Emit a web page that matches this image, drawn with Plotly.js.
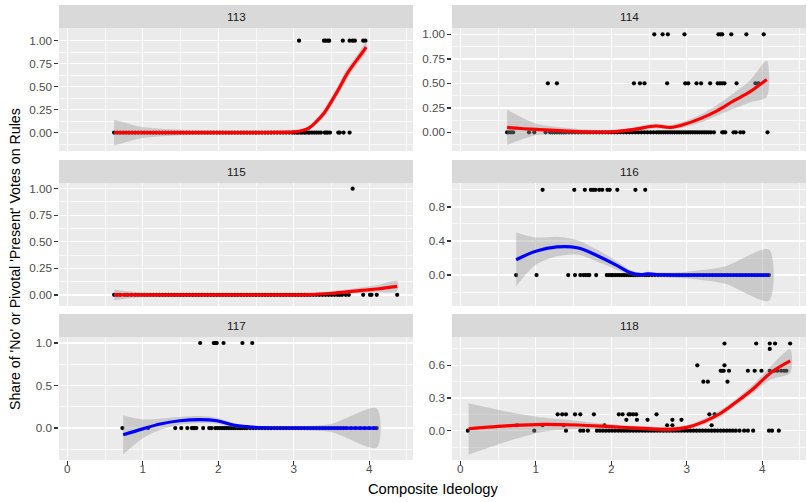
<!DOCTYPE html>
<html><head><meta charset="utf-8">
<script src="https://cdn.plot.ly/plotly-3.0.1.min.js"></script>
<style>html,body{margin:0;padding:0;background:#fff}#chart{width:807px;height:502px}</style>
</head><body><div id="chart"></div>
<script>
// ---------- DATA ----------
const panelNames = ['113','114','115','116','117','118'];
const xTickLabels = ['0','1','2','3','4'];
const xTitle = 'Composite Ideology';
const yTitle = "Share of 'No' or Pivotal 'Present' Votes on Rules";

// Panel 113
const p113_x0 = [0.62,0.66,0.70,0.74,0.78,0.82,0.86,0.90,0.94,0.98,1.02,1.06,1.10,1.14,1.18,1.22,1.26,1.30,1.34,1.38,1.42,1.46,1.50,1.54,1.58,1.62,1.66,1.70,1.74,1.78,1.82,1.86,1.90,1.94,1.98,2.02,2.06,2.10,2.14,2.18,2.22,2.26,2.30,2.34,2.38,2.42,2.46,2.50,2.54,2.58,2.62,2.66,2.70,2.74,2.78,2.82,2.86,2.90,2.94,2.98,3.01,3.04,3.06,3.09,3.11,3.14,3.16,3.19,3.21,3.24,3.27,3.30,3.33,3.36,3.41,3.43,3.45,3.48,3.59,3.61,3.66,3.74];
const p113_x1 = [3.07,3.40,3.42,3.45,3.47,3.65,3.74,3.78,3.81,3.92,3.95];
const s113_x  = [0.62,0.80,1.00,1.50,2.00,2.50,2.80,3.00,3.10,3.20,3.30,3.40,3.50,3.60,3.70,3.80,3.90,3.96];
const s113_y  = [0.00,0.00,0.00,0.00,0.00,0.00,0.002,0.007,0.02,0.05,0.12,0.21,0.34,0.48,0.63,0.75,0.86,0.93];
const s113_lo = [-0.14,-0.10,-0.06,-0.03,-0.02,-0.015,-0.012,-0.008,0.005,0.03,0.09,0.17,0.29,0.43,0.57,0.70,0.80,0.87];
const s113_hi = [0.14,0.10,0.06,0.03,0.02,0.015,0.016,0.022,0.035,0.07,0.15,0.25,0.39,0.53,0.69,0.80,0.92,0.99];

// Panel 114
const p114_x0 = [0.62,0.64,0.67,0.70,0.91,0.98,1.13,1.19,1.22,1.25,1.28,1.31,1.34,1.37,1.40,1.44,1.48,1.52,1.56,1.60,1.64,1.68,1.72,1.76,1.80,1.84,1.88,1.92,1.96,2.00,2.04,2.08,2.12,2.16,2.20,2.24,2.28,2.32,2.36,2.40,2.44,2.48,2.52,2.56,2.60,2.63,2.66,2.69,2.72,2.75,2.78,2.81,2.84,2.87,2.90,2.93,2.96,2.99,3.02,3.05,3.08,3.11,3.14,3.17,3.20,3.23,3.26,3.29,3.32,3.36,3.47,3.49,3.51,3.62,3.65,3.71,3.75,4.07];
const p114_xh = [1.16,1.28,2.30,2.38,2.44,2.74,2.98,3.02,3.13,3.19,3.31,3.41,3.44,3.47,3.50,3.66,3.91,3.95];
const p114_x1 = [2.57,2.68,2.75,2.97,3.42,3.45,3.47,3.59,3.79,4.02];
const s114_x  = [0.62,1.00,1.50,2.00,2.30,2.59,2.78,2.96,3.18,3.40,3.62,3.85,4.06];
const s114_y  = [0.05,0.03,0.01,0.005,0.03,0.065,0.05,0.08,0.14,0.22,0.32,0.42,0.54];
const s114_lo = [-0.13,-0.03,-0.02,-0.01,0.01,0.04,0.03,0.05,0.10,0.17,0.24,0.31,0.36];
const s114_hi = [0.23,0.09,0.04,0.02,0.05,0.09,0.075,0.11,0.18,0.28,0.40,0.54,0.73];

// Panel 115
const p115_x0 = [0.62,0.66,0.70,0.76,0.80,0.85,0.90,0.94,0.98,1.02,1.06,1.10,1.14,1.18,1.22,1.26,1.30,1.34,1.38,1.42,1.46,1.50,1.54,1.58,1.62,1.66,1.70,1.74,1.78,1.82,1.86,1.90,1.94,1.98,2.02,2.06,2.10,2.14,2.18,2.22,2.26,2.30,2.34,2.38,2.42,2.46,2.50,2.54,2.58,2.62,2.66,2.70,2.74,2.78,2.82,2.86,2.90,2.94,2.98,3.02,3.06,3.10,3.14,3.18,3.22,3.26,3.30,3.34,3.38,3.42,3.46,3.50,3.54,3.58,3.61,3.64,3.69,3.73,3.92,4.01,4.03,4.10,4.37];
const p115_x1 = [3.78];
const s115_x  = [0.62,1.00,1.50,2.00,2.50,3.00,3.20,3.50,3.80,4.10,4.37];
const s115_y  = [0.00,0.00,0.00,0.00,0.00,0.00,0.002,0.015,0.035,0.055,0.08];
const s115_lo = [-0.05,-0.02,-0.01,-0.008,-0.008,-0.008,-0.008,0.000,0.012,0.025,0.035];
const s115_hi = [0.05,0.02,0.01,0.008,0.008,0.008,0.012,0.030,0.060,0.090,0.130];

// Panel 116
const p116_x0 = [0.74,1.01,1.43,1.52,1.59,1.63,1.66,1.69,1.71,1.80,1.94,1.97,2.00,2.02,2.05,2.08,2.11,2.14,2.17,2.20,2.23,2.26,2.29,2.32,2.35,2.38,2.41,2.44,2.47,2.50,2.54,2.58,2.62,2.66,2.70,2.74,2.78,2.82,2.86,2.90,2.94,2.98,3.02,3.06,3.10,3.14,3.18,3.22,3.26,3.30,3.34,3.38,3.42,3.46,3.50,3.54,3.58,3.62,3.66,3.70,3.74,3.78,3.82,3.86,3.90,3.94,3.98,4.02,4.06,4.09];
const p116_x1 = [1.09,1.51,1.65,1.73,1.76,1.79,1.84,1.88,1.95,1.98,2.08,2.32,2.45];
const s116_x  = [0.74,1.00,1.28,1.55,1.81,2.08,2.25,2.39,2.48,2.60,3.00,3.50,4.09];
const s116_y  = [0.18,0.28,0.33,0.32,0.23,0.11,0.03,0.005,0.015,0.005,0.00,0.00,0.00];
const s116_lo = [-0.13,0.12,0.22,0.24,0.16,0.06,0.00,-0.02,-0.01,-0.02,-0.04,-0.10,-0.30];
const s116_hi = [0.50,0.44,0.45,0.41,0.30,0.16,0.06,0.03,0.04,0.03,0.04,0.10,0.30];

// Panel 117
const p117_x0 = [0.73,1.07,1.43,1.51,1.59,1.65,1.67,1.69,1.71,1.80,1.88,1.91,1.96,1.99,2.02,2.05,2.08,2.11,2.14,2.17,2.20,2.23,2.26,2.29,2.32,2.35,2.38,2.42,2.46,2.50,2.54,2.58,2.62,2.66,2.70,2.74,2.78,2.82,2.86,2.90,2.94,2.98,3.02,3.06,3.10,3.14,3.18,3.22,3.26,3.30,3.34,3.38,3.42,3.46,3.50,3.54,3.58,3.62,3.66,3.70,3.76,3.82,3.88,3.94,4.00,4.06,4.10];
const p117_x1 = [1.76,1.94,1.96,1.97,1.98,2.07,2.32,2.45];
const s117_x  = [0.74,1.00,1.23,1.49,1.76,1.98,2.20,2.38,2.60,3.00,3.50,4.10];
const s117_y  = [-0.08,-0.01,0.047,0.086,0.10,0.086,0.035,0.016,0.003,0.00,0.00,0.00];
const s117_lo = [-0.31,-0.12,-0.02,0.04,0.06,0.05,0.01,-0.005,-0.015,-0.02,-0.05,-0.23];
const s117_hi = [0.15,0.10,0.11,0.13,0.14,0.12,0.06,0.035,0.02,0.02,0.05,0.23];

// Panel 118
const p118_x = [3.50,3.92,4.10,4.17,4.37, 4.10, 3.14,3.50,
  3.45,3.47,3.49,3.56,3.81,3.90,3.99,4.10,4.16,4.20,4.25,4.29,4.32,
  3.22,3.28,3.54,
  1.29,1.35,1.40,1.52,1.59,1.77,2.10,2.15,2.23,2.25,2.29,2.33,2.60,3.30,3.37,
  2.20,2.34,2.48,2.81,2.93,
  0.75,1.09,1.37,1.91,2.74,2.81,3.33,
  0.10,0.98,1.40,1.59,1.63,1.69,1.81,1.85,1.89,1.93,1.97,2.01,2.05,2.09,2.13,2.17,2.21,2.25,2.29,2.33,2.37,2.41,2.45,2.49,2.53,2.57,2.61,2.65,2.69,2.73,2.77,2.81,2.85,2.89,2.93,2.97,3.01,3.05,3.09,3.13,3.17,3.21,3.25,3.29,3.33,3.37,3.41,3.45,3.49,3.53,3.57,3.61,3.65,3.70,3.76,3.81,3.88,4.09,4.13,4.22];
const p118_y = [0.8,0.8,0.8,0.8,0.8, 0.75, 0.6,0.6,
  0.55,0.55,0.55,0.55,0.55,0.55,0.55,0.55,0.55,0.55,0.55,0.55,0.55,
  0.45,0.45,0.45,
  0.15,0.15,0.15,0.15,0.15,0.15,0.15,0.15,0.15,0.15,0.15,0.15,0.15,0.15,0.15,
  0.1,0.1,0.1,0.1,0.1,
  0.05,0.05,0.05,0.05,0.05,0.05,0.05,
  0,0,0,0,0,0,0,0,0,0,0,0,0,0,0,0,0,0,0,0,0,0,0,0,0,0,0,0,0,0,0,0,0,0,0,0,0,0,0,0,0,0,0,0,0,0,0,0,0,0,0,0,0,0,0,0,0,0,0,0];
const s118_x  = [0.11,0.66,1.10,1.55,1.99,2.43,2.78,3.00,3.23,3.45,3.67,3.89,4.11,4.37];
const s118_y  = [0.018,0.046,0.058,0.052,0.037,0.021,0.012,0.03,0.083,0.16,0.27,0.39,0.53,0.64];
const s118_lo = [-0.22,-0.09,-0.01,0.015,0.013,0.002,-0.01,0.01,0.06,0.13,0.24,0.35,0.47,0.53];
const s118_hi = [0.25,0.17,0.12,0.09,0.06,0.04,0.035,0.05,0.11,0.19,0.30,0.43,0.59,0.75];

// ---------- LAYOUT CONSTANTS ----------
const W = 807, H = 502;
const colX = [[59,413],[452,806]];
const rowY = [[28.3,151],[183.3,306],[337.3,460]];
const stripH = 23.3;
const yRanges = [[-0.2,1.134],[-0.19,1.061],[-0.105,1.051],[-0.363,1.077],[-0.376,1.067],[-0.269,0.857]];
const yDtick = [0.25,0.25,0.25,0.4,0.5,0.3];
const yFmt = ['.2f','.2f','.2f','.1f','.1f','.1f'];
const xRange = [-0.11,4.58];
const FONT = 'Liberation Sans, Arial, Helvetica, sans-serif';

const panelData = [
  {pts:[[p113_x0,0],[p113_x1,1]], s:[s113_x,s113_y,s113_lo,s113_hi], c:'#FF0000'},
  {pts:[[p114_x0,0],[p114_xh,0.5],[p114_x1,1]], s:[s114_x,s114_y,s114_lo,s114_hi], c:'#FF0000'},
  {pts:[[p115_x0,0],[p115_x1,1]], s:[s115_x,s115_y,s115_lo,s115_hi], c:'#FF0000'},
  {pts:[[p116_x0,0],[p116_x1,1]], s:[s116_x,s116_y,s116_lo,s116_hi], c:'#0000FF'},
  {pts:[[p117_x0,0],[p117_x1,1]], s:[s117_x,s117_y,s117_lo,s117_hi], c:'#0000FF'},
  {pts:null, px:p118_x, py:p118_y, s:[s118_x,s118_y,s118_lo,s118_hi], c:'#FF0000'}
];

const traces = [];
const layout = {
  width: W, height: H, margin:{l:0,r:0,t:0,b:0},
  paper_bgcolor:'#FFFFFF', plot_bgcolor:'#EBEBEB',
  showlegend:false, font:{family:FONT},
  shapes:[], annotations:[]
};

panelData.forEach((p, i) => {
  const n = i + 1, sfx = n === 1 ? '' : String(n);
  const xa = 'x' + sfx, ya = 'y' + sfx;
  const col = i % 2, row = Math.floor(i / 2);
  let px = [], py = [];
  if (p.pts) { p.pts.forEach(([xs, v]) => { xs.forEach(x => { px.push(x); py.push(v); }); }); }
  else { px = p.px; py = p.py; }
  traces.push({type:'scatter', mode:'markers', x:px, y:py, xaxis:xa, yaxis:ya,
    marker:{color:'#000000', size:4.2}, hoverinfo:'skip'});
  const [sx, sy, lo, hi] = p.s;
  traces.push({type:'scatter', mode:'lines', x:sx.concat(sx.slice().reverse()),
    y:hi.concat(lo.slice().reverse()), xaxis:xa, yaxis:ya, fill:'toself',
    fillcolor:'rgba(153,153,153,0.4)', line:{width:0, shape:'spline', smoothing:0.8}, hoverinfo:'skip'});
  traces.push({type:'scatter', mode:'lines', x:sx, y:sy, xaxis:xa, yaxis:ya,
    line:{color:p.c, width:3.2, shape:'spline', smoothing:1}, hoverinfo:'skip'});

  const bottom = row === 2;
  layout['xaxis' + sfx] = {
    domain:[colX[col][0]/W, colX[col][1]/W], range:xRange, anchor:ya,
    tickmode:'array', tickvals:[0,1,2,3,4], ticktext:xTickLabels,
    showgrid:true, gridcolor:'#FFFFFF', gridwidth:1.4, zeroline:false, showline:false,
    minor:{tickmode:'array', tickvals:[0.5,1.5,2.5,3.5,4.5], showgrid:true, gridcolor:'#FFFFFF', gridwidth:0.7, ticks:''},
    ticks: bottom ? 'outside' : '', ticklen:3.7, tickwidth:1.4, tickcolor:'#333333',
    ticklabelstandoff:-6,
    showticklabels: bottom, tickfont:{family:FONT, size:11.7, color:'#4D4D4D'}
  };
  const dt = yDtick[i];
  layout['yaxis' + sfx] = {
    domain:[(H-rowY[row][1])/H, (H-rowY[row][0])/H], range:yRanges[i], anchor:xa,
    tick0:0, dtick:dt, tickformat:yFmt[i],
    showgrid:true, gridcolor:'#FFFFFF', gridwidth:1.4, zeroline:false, showline:false,
    minor:{tick0:-dt/2, dtick:dt, showgrid:true, gridcolor:'#FFFFFF', gridwidth:0.7, ticks:''},
    ticks:'outside', ticklen:3.7, tickwidth:1.4, tickcolor:'#333333',
    tickfont:{family:FONT, size:11.7, color:'#4D4D4D'}
  };
  // strip
  const sTop = rowY[row][0] - stripH;
  layout.shapes.push({type:'rect', xref:'paper', yref:'paper', layer:'below',
    x0:colX[col][0]/W, x1:colX[col][1]/W, y0:(H-rowY[row][0])/H, y1:(H-sTop)/H,
    fillcolor:'#D9D9D9', line:{width:0}});
  layout.annotations.push({xref:'paper', yref:'paper', showarrow:false,
    x:(colX[col][0]+colX[col][1])/2/W, y:(H-(sTop+stripH/2))/H, xanchor:'center', yanchor:'middle',
    text:panelNames[i], font:{family:FONT, size:11.7, color:'#1A1A1A'}});
});

layout.annotations.push({xref:'paper', yref:'paper', showarrow:false,
  x:432.5/W, y:(H-489)/H, xanchor:'center', yanchor:'middle',
  text:xTitle, font:{family:FONT, size:14.7, color:'#000000'}});
layout.annotations.push({xref:'paper', yref:'paper', showarrow:false, textangle:-90,
  x:15/W, y:(H-259)/H, xanchor:'center', yanchor:'middle',
  text:yTitle, font:{family:FONT, size:14.2, color:'#000000'}});

Plotly.newPlot('chart', traces, layout, {staticPlot:true, displayModeBar:false});
</script></body></html>
